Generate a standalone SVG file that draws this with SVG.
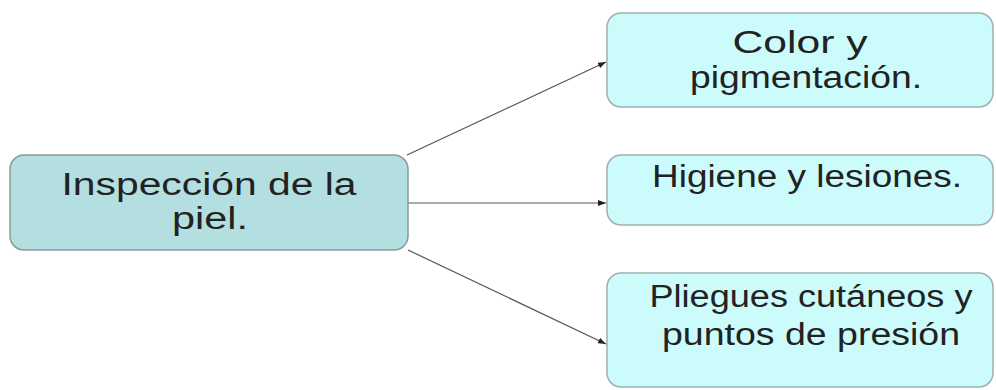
<svg xmlns="http://www.w3.org/2000/svg" width="996" height="390" viewBox="0 0 996 390">
<style>
.main{fill:#b3dfe1;stroke:#8a9a9c;stroke-width:1.5}
.sub{fill:#cbfbfb;stroke:#9fb0b0;stroke-width:1.5}
text{font-family:"Liberation Sans",Arial,sans-serif;font-size:31px;fill:#222;text-anchor:middle}
.con{stroke:#555;stroke-width:1.2;fill:none;marker-end:url(#ah)}
</style>
<defs>
<marker id="ah" markerWidth="8" markerHeight="6" refX="8" refY="3" orient="auto" markerUnits="userSpaceOnUse">
<path d="M0,0 L8,3 L0,6 Z" fill="#222"/>
</marker>
</defs>
<rect width="996" height="390" fill="#ffffff"/>
<g id="connectors">
<line class="con" x1="407" y1="155" x2="606" y2="62"/>
<line class="con" x1="407" y1="203" x2="606" y2="203"/>
<line class="con" x1="408" y1="250" x2="606" y2="344"/>
</g>
<g id="inspeccion">
<rect class="main" x="10" y="155" width="398" height="95" rx="14"/>
<text x="209" y="195" textLength="295" lengthAdjust="spacingAndGlyphs">Inspección de la</text>
<text x="210" y="229" textLength="76" lengthAdjust="spacingAndGlyphs">piel.</text>
</g>
<g id="color">
<rect class="sub" x="607" y="13" width="386" height="94" rx="14"/>
<text x="800" y="53" textLength="135" lengthAdjust="spacingAndGlyphs">Color y</text>
<text x="806" y="88" textLength="232" lengthAdjust="spacingAndGlyphs">pigmentación.</text>
</g>
<g id="higiene">
<rect class="sub" x="607" y="155" width="386" height="70" rx="14"/>
<text x="807" y="187" textLength="310" lengthAdjust="spacingAndGlyphs">Higiene y lesiones.</text>
</g>
<g id="pliegues">
<rect class="sub" x="607" y="273" width="386" height="114" rx="14"/>
<text x="811" y="307" textLength="323" lengthAdjust="spacingAndGlyphs">Pliegues cutáneos y</text>
<text x="811" y="345" textLength="298" lengthAdjust="spacingAndGlyphs">puntos de presión</text>
</g>
</svg>
